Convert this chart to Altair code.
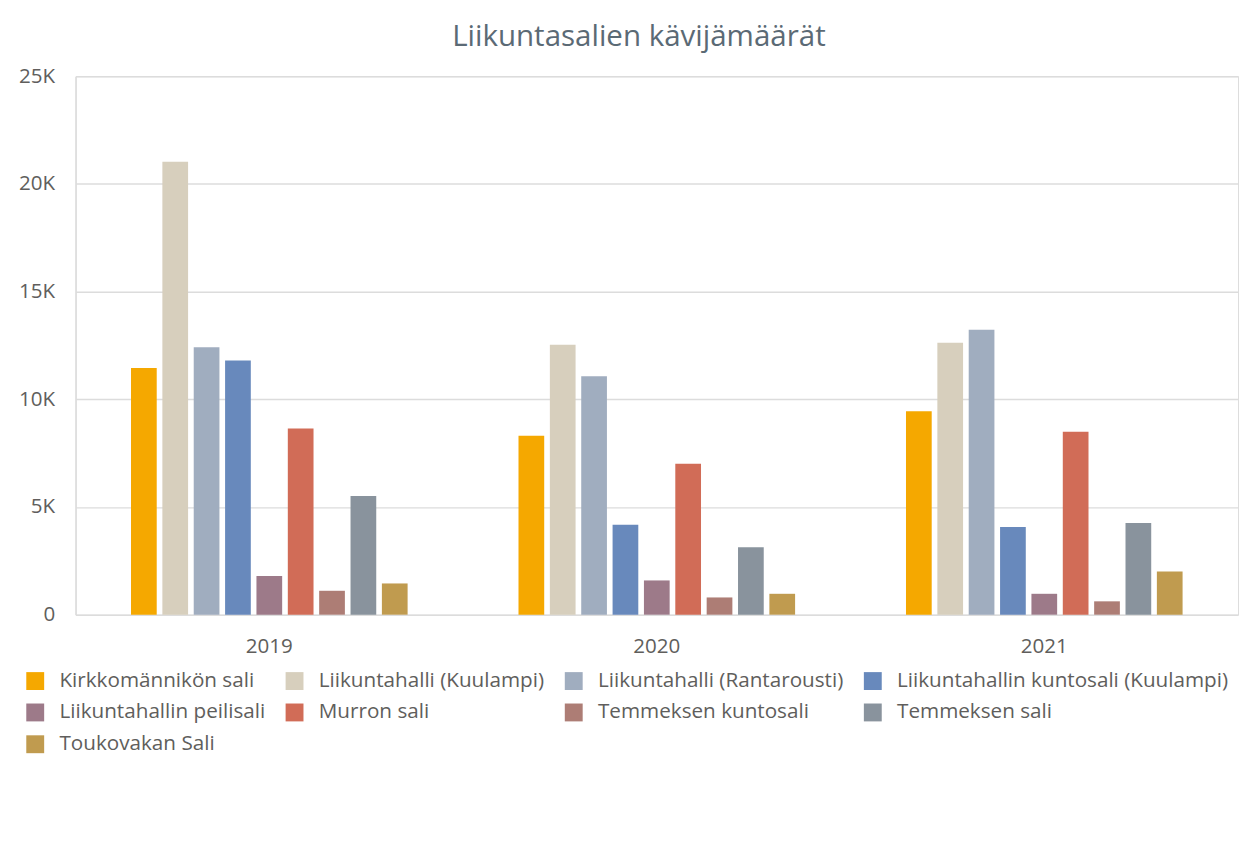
import altair as alt
import pandas as pd

years = ["2019", "2020", "2021"]
halls = [
    "Kirkkomännikön sali",
    "Liikuntahalli (Kuulampi)",
    "Liikuntahalli (Rantarousti)",
    "Liikuntahallin kuntosali (Kuulampi)",
    "Liikuntahallin peilisali",
    "Murron sali",
    "Temmeksen kuntosali",
    "Temmeksen sali",
    "Toukovakan Sali",
]
colors = ["#F5A800", "#D7CFBD", "#A0ADBF", "#6889BC", "#9D7A89",
          "#D16C57", "#AD7D75", "#89939D", "#C09B4F"]

v2019 = [11450, 21030, 12410, 11800, 1800, 8640, 1110, 5510, 1450]
v2020 = [8310, 12530, 11070, 4170, 1590, 7010, 800, 3130, 970]
v2021 = [9440, 12620, 13230, 4070, 970, 8490, 620, 4260, 2010]

rows = []
for y, vals in zip(years, [v2019, v2020, v2021]):
    for h, v in zip(halls, vals):
        rows.append({"Vuosi": y, "Sali": h, "Kävijät": v})
df = pd.DataFrame(rows)

FONT = "Open Sans"
LABEL = "#605E5C"

chart = alt.Chart(df).mark_bar().encode(
    x=alt.X("Vuosi:N", sort=years,
            scale=alt.Scale(paddingInner=0.27, paddingOuter=0.135),
            axis=alt.Axis(title=None, labelAngle=0, ticks=False, tickSize=0,
                          domain=False, labelPadding=22, labelFontSize=20.7,
                          labelColor=LABEL, labelFont=FONT)),
    xOffset=alt.XOffset("Sali:N", sort=halls,
                        scale=alt.Scale(paddingInner=0.18, paddingOuter=0.1)),
    y=alt.Y("Kävijät:Q",
            scale=alt.Scale(domain=[0, 25000], nice=False),
            axis=alt.Axis(title=None, values=[0, 5000, 10000, 15000, 20000, 25000],
                          labelExpr="datum.value == 0 ? '0' : (datum.value / 1000) + 'K'",
                          ticks=False, tickSize=0, labelPadding=21,
                          domain=True, domainColor="#DCDCDC", domainWidth=1.5,
                          gridColor="#DCDCDC", gridWidth=1.5,
                          labelFontSize=20.7, labelColor=LABEL, labelFont=FONT)),
    color=alt.Color("Sali:N",
                    scale=alt.Scale(domain=halls, range=colors),
                    legend=alt.Legend(title=None, orient="none", legendX=-51, legendY=598,
                                      columns=4, symbolType="square", symbolSize=324,
                                      symbolStrokeWidth=0, labelFontSize=20.8,
                                      labelFont=FONT, labelColor=LABEL, labelLimit=500,
                                      labelOffset=14, columnPadding=19, rowPadding=10,
                                      direction="horizontal")),
).properties(
    width=1170,
    height=542,
    title=alt.TitleParams("Liikuntasalien kävijämäärät", fontSize=29.7, font=FONT,
                          fontWeight="normal", color="#5B6A75", anchor="middle",
                          frame="group", dx=-18, offset=13),
    padding={"left": 68, "top": 66, "right": 5, "bottom": 200},
    autosize=alt.AutoSizeParams(type="none"),
).configure_view(stroke=None).configure(background="white")

chart.save("out.html", embed_options={"renderer": "svg", "actions": False})
